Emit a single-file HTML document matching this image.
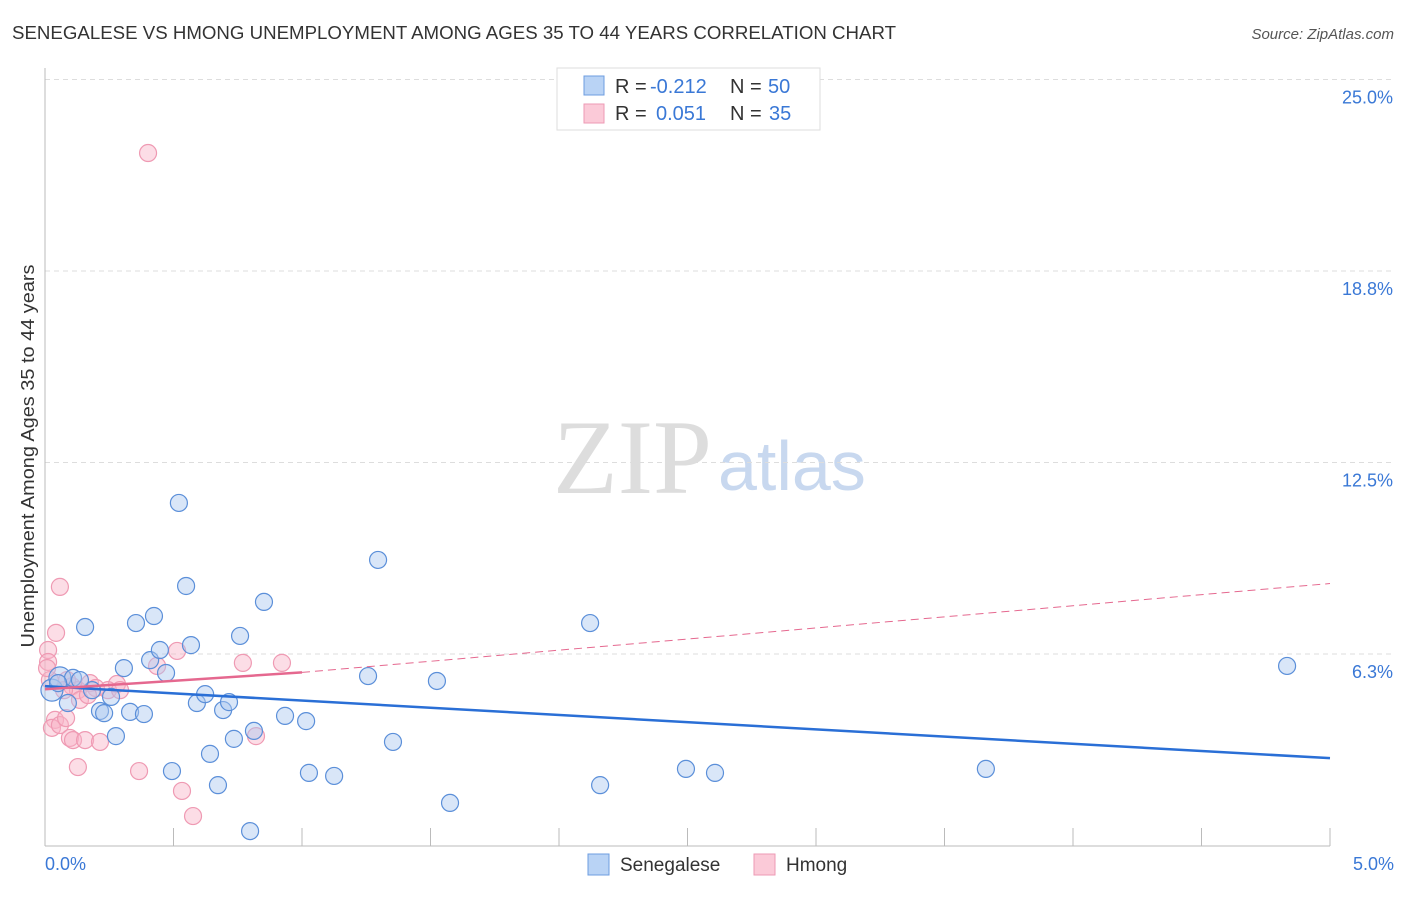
<!DOCTYPE html>
<html><head><meta charset="utf-8"><style>
body{margin:0;background:#fff;font-family:"Liberation Sans",sans-serif}
</style></head><body>
<svg width="1406" height="892" xmlns="http://www.w3.org/2000/svg">
<text x="12" y="39" font-size="18" fill="#333" textLength="884" lengthAdjust="spacingAndGlyphs">SENEGALESE VS HMONG UNEMPLOYMENT AMONG AGES 35 TO 44 YEARS CORRELATION CHART</text>
<text x="1394" y="39" font-size="15" fill="#555" font-style="italic" text-anchor="end">Source: ZipAtlas.com</text>
<text x="553" y="493" font-size="106" fill="#ddd" font-family="Liberation Serif,serif">ZIP</text>
<text x="718" y="490" font-size="70" fill="#c8d8ef">atlas</text>
<g id="grid"></g>
<line x1="45" y1="68" x2="45" y2="846" stroke="#bbb"/>
<line x1="45" y1="846" x2="1330" y2="846" stroke="#bbb"/>
<g id="xt"></g>
<text transform="translate(34,456) rotate(-90)" font-size="18" fill="#333" text-anchor="middle" textLength="383" lengthAdjust="spacingAndGlyphs">Unemployment Among Ages 35 to 44 years</text>
<text x="45" y="870" font-size="18" fill="#3a78d6">0.0%</text>
<text x="1394" y="870" font-size="18" fill="#3a78d6" text-anchor="end">5.0%</text>
<g id="pts"></g>
<g id="lines"></g>
<g>
<rect x="557" y="68" width="263" height="62" fill="#fff" stroke="#ddd"/>
<rect x="584" y="76" width="20" height="19" fill="#b9d3f5" stroke="#6d9de0"/>
<rect x="584" y="104" width="20" height="19" fill="#fbcad8" stroke="#ee9ab4"/>
<text x="615" y="93" font-size="20" fill="#333">R =</text>
<text x="650" y="93" font-size="20" fill="#3a78d6">-0.212</text>
<text x="730" y="93" font-size="20" fill="#333">N =</text>
<text x="768" y="93" font-size="20" fill="#3a78d6">50</text>
<text x="615" y="120" font-size="20" fill="#333">R =</text>
<text x="656" y="120" font-size="20" fill="#3a78d6">0.051</text>
<text x="730" y="120" font-size="20" fill="#333">N =</text>
<text x="769" y="120" font-size="20" fill="#3a78d6">35</text>
</g>
<g>
<rect x="588" y="854" width="21" height="21" fill="#b9d3f5" stroke="#6d9de0"/>
<text x="620" y="871" font-size="19" fill="#333">Senegalese</text>
<rect x="754" y="854" width="21" height="21" fill="#fbcad8" stroke="#ee9ab4"/>
<text x="786" y="871" font-size="19" fill="#333">Hmong</text>
</g>
</svg>
<script>
const yTicks=[6.25,12.5,18.75,25];
const yTickLabels=["6.3%","12.5%","18.8%","25.0%"];
const senX=[0.027,0.058,0.089,0.109,0.156,0.183,0.214,0.230,0.257,0.276,0.307,0.331,0.354,0.385,0.409,0.424,0.447,0.471,0.494,0.521,0.549,0.568,0.591,0.623,0.642,0.673,0.693,0.716,0.735,0.759,0.798,0.813,0.852,0.934,1.016,1.027,1.125,1.257,1.296,1.354,1.525,1.576,2.121,2.160,2.494,2.607,3.661,4.833,0.051,0.136];
const senY=[5.07,5.47,4.65,5.47,7.13,5.07,4.39,4.32,4.85,3.57,5.79,4.36,7.26,4.29,6.05,7.49,6.38,5.63,2.43,11.18,8.47,6.54,4.65,4.94,2.99,1.97,4.42,4.68,3.48,6.84,0.47,3.74,7.95,4.23,4.06,2.37,2.27,5.53,9.32,3.38,5.37,1.39,7.26,1.97,2.50,2.37,2.50,5.86,5.30,5.40];
const hmX=[0.401,0.058,0.043,0.012,0.012,0.019,0.039,0.027,0.058,0.082,0.097,0.109,0.105,0.128,0.136,0.156,0.175,0.198,0.214,0.128,0.280,0.366,0.436,0.514,0.533,0.576,0.770,0.821,0.922,0.074,0.245,0.008,0.167,0.086,0.292];
const hmY=[22.6,8.44,6.94,6.38,5.99,5.40,4.10,3.84,3.93,4.16,3.51,3.44,5.20,5.07,4.75,3.44,5.30,5.14,3.38,2.56,5.27,2.43,5.86,6.35,1.78,0.96,5.96,3.57,5.96,5.07,5.07,5.79,4.91,5.40,5.07];
const X=v=>45+v/5*1285, Y=v=>845.5-v*30.64;
const NS="http://www.w3.org/2000/svg";
function mk(t,a,p){const e=document.createElementNS(NS,t);for(const k in a)e.setAttribute(k,a[k]);p.appendChild(e);return e;}
const grid=document.getElementById('grid');
yTicks.forEach((t,i)=>{
 const l=mk('line',{x1:45,x2:1394,y1:Y(t),y2:Y(t),stroke:'#ddd','stroke-dasharray':'5,4'},grid);
 
 
 const tx=mk('text',{x:1393,y:Y(t)+24,'font-size':18,fill:'#3a78d6','text-anchor':'end'},grid);
 tx.textContent=yTickLabels[i];
 
 
});
const xt=document.getElementById('xt');
for(let i=0;i<=10;i++){
 const l=mk('line',{x1:X(i*0.5),x2:X(i*0.5),y1:828,y2:846,stroke:'#bbb'},xt);
 
 
}
const pts=document.getElementById('pts');
hmX.forEach((x,i)=>{
 const c=mk('circle',{cx:X(x),cy:Y(hmY[i]),r:8.5,fill:'rgba(248,180,200,0.45)',stroke:'#ef9ab3','stroke-width':1.2},pts);
 
 
});
senX.forEach((x,i)=>{
 const c=mk('circle',{cx:X(x),cy:Y(senY[i]),r:(i<2?11:8.5),fill:'rgba(170,200,240,0.45)',stroke:'#5b8fd9','stroke-width':1.2},pts);
 
 
});
const lines=document.getElementById('lines');
const b=mk('line',{x1:X(0),y1:Y(5.2),x2:X(5),y2:Y(2.85),stroke:'#2a6fd6','stroke-width':2.5},lines);


const p=mk('line',{x1:X(0),y1:Y(5.1),x2:X(1.0),y2:Y(5.65),stroke:'#e5688f','stroke-width':2.5},lines);


const pd=mk('line',{x1:X(1.0),y1:Y(5.65),x2:X(5),y2:Y(8.55),stroke:'#e5688f','stroke-width':1,'stroke-dasharray':'8,5'},lines);


</script>
</body></html>
